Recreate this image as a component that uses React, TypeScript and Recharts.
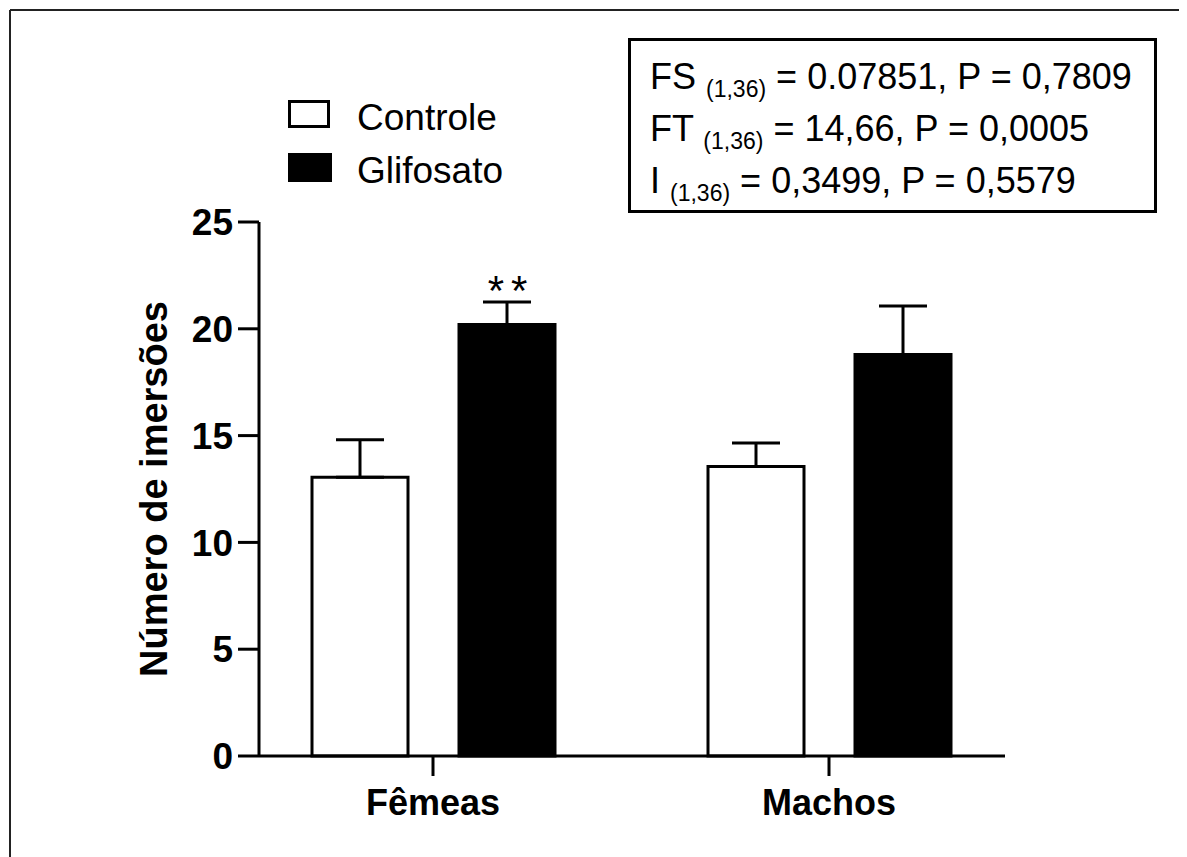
import React from 'react';
import { BarChart, Bar, XAxis, YAxis, ErrorBar, LabelList } from 'recharts';

const categories = ['Fêmeas', 'Machos'];
const seriesNames = ['Controle', 'Glifosato'];
const controle = [13.05, 13.55];
const controleSem = [1.75, 1.1];
const glifosato = [20.2, 18.8];
const glifosatoSem = [1.05, 2.27];
const significance = ['**', ''];
const yTicks = [0, 5, 10, 15, 20, 25];
const statsLines = [
  { name: 'FS', df: '(1,36)', rest: '= 0.07851, P = 0,7809' },
  { name: 'FT', df: '(1,36)', rest: '= 14,66, P = 0,0005' },
  { name: 'I', df: '(1,36)', rest: '= 0,3499, P = 0,5579' },
];

const FONT = '"Liberation Sans", Arial, Helvetica, sans-serif';

const data = categories.map((name, i) => ({
  name,
  controle: controle[i],
  controleErr: [0, controleSem[i]],
  glifosato: glifosato[i],
  glifosatoErr: [0, glifosatoSem[i]],
  sig: significance[i],
}));

// asterisks sit just above the error cap of the bar
const renderSig = (props: any) => {
  const { index, value } = props;
  if (!value) return null;
  const vb = props.viewBox && props.viewBox.width != null ? props.viewBox : props;
  const { x, y, width, height } = vb;
  const pxPerUnit = height / glifosato[index];
  const capY = y - glifosatoSem[index] * pxPerUnit;
  return (
    <text
      x={x + width / 2 + 4}
      y={capY + 3}
      textAnchor="middle"
      fontSize={42}
      fontFamily={FONT}
      letterSpacing={7}
      fill="#000"
    >
      {value}
    </text>
  );
};

export default function App() {
  return (
    <div style={{ position: 'relative', width: 1179, height: 849, background: '#fff', fontFamily: FONT }}>
      <BarChart
        width={1179}
        height={849}
        data={data}
        margin={{ top: 214, right: 182, bottom: 21, left: 41 }}
        barGap={51}
      >
        <XAxis
          dataKey="name"
          height={80}
          padding={{ left: -24, right: -22 }}
          axisLine={{ stroke: '#000', strokeWidth: 3 }}
          tickLine={{ stroke: '#000', strokeWidth: 3 }}
          tickSize={20}
          tickMargin={13}
          tick={{ fill: '#000', fontSize: 36, fontWeight: 'bold', fontFamily: FONT }}
        />
        <YAxis
          width={210}
          domain={[0, 25]}
          ticks={yTicks}
          interval={0}
          axisLine={{ stroke: '#000', strokeWidth: 3 }}
          tickLine={{ stroke: '#000', strokeWidth: 3 }}
          tickSize={21}
          tickMargin={5}
          tick={{ fill: '#000', fontSize: 37, fontWeight: 'bold', fontFamily: FONT }}
          label={{
            value: 'Número de imersões',
            angle: -90,
            position: 'center',
            fill: '#000',
            fontSize: 38,
            fontWeight: 'bold',
            fontFamily: FONT,
          }}
        />
        <Bar dataKey="controle" name={seriesNames[0]} barSize={96} fill="#fff" stroke="#000" strokeWidth={3} isAnimationActive={false}>
          <ErrorBar dataKey="controleErr" width={24} stroke="#000" strokeWidth={3} isAnimationActive={false} />
        </Bar>
        <Bar dataKey="glifosato" name={seriesNames[1]} barSize={96} fill="#000" stroke="#000" strokeWidth={3} isAnimationActive={false}>
          <ErrorBar dataKey="glifosatoErr" width={24} stroke="#000" strokeWidth={3} isAnimationActive={false} />
          <LabelList dataKey="sig" content={renderSig} />
        </Bar>
      </BarChart>

      <svg
        width={1179}
        height={849}
        style={{ position: 'absolute', left: 0, top: 0, pointerEvents: 'none' }}
      >
        {/* outer frame: top and left edges only */}
        <line x1={2} y1={2} x2={1179} y2={2} stroke="#222" strokeWidth={2} />
        <line x1={2} y1={2} x2={2} y2={849} stroke="#222" strokeWidth={2} />

        {/* legend */}
        <rect x={281.5} y={93.5} width={39} height={25} fill="#fff" stroke="#000" strokeWidth={3} />
        <text x={349} y={122} fontSize={37} fontFamily={FONT} fill="#000">{seriesNames[0]}</text>
        <rect x={280} y={145} width={44} height={29} fill="#000" />
        <text x={349} y={175} fontSize={37} fontFamily={FONT} fill="#000">{seriesNames[1]}</text>

        {/* ANOVA summary box */}
        <rect x={621.5} y={31.5} width={526} height={172} fill="#fff" stroke="#000" strokeWidth={3} />
        {statsLines.map((s, i) => (
          <text key={s.name} x={642} y={81 + i * 52} fontSize={36} fontFamily={FONT} fill="#000">
            {s.name + ' '}
            <tspan fontSize={23} dy={8}>{s.df}</tspan>
            <tspan dy={-8}>{' ' + s.rest}</tspan>
          </text>
        ))}
      </svg>
    </div>
  );
}
